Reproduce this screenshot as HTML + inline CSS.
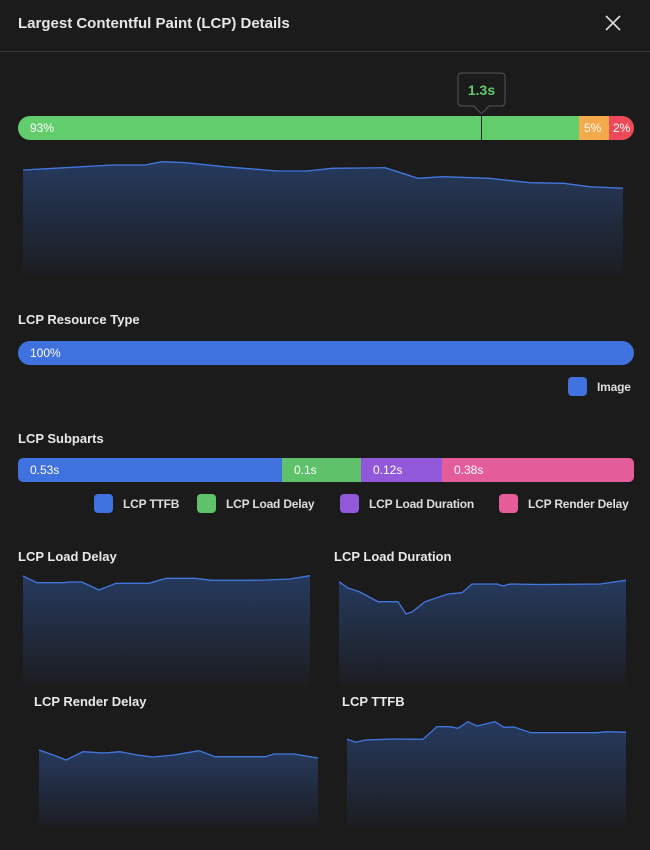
<!DOCTYPE html>
<html><head><style>
body{margin:0;width:650px;height:850px;background:#1b1b1b;font-family:"Liberation Sans",sans-serif;color:#e6e6e6;position:relative;overflow:hidden}
.a{position:absolute}
.t{font-size:13px;font-weight:bold;color:#e8e8e8}
.bar{position:absolute;height:24px;display:flex;overflow:hidden;border-radius:12px}
.bar div{height:24px;line-height:24px;font-size:12px;color:#fff;padding-left:12px;box-sizing:border-box;white-space:nowrap}
.lg{position:absolute;font-size:12px;font-weight:bold;color:#ddd;display:flex;align-items:center;letter-spacing:-0.2px}
.lg i{display:inline-block;width:19px;height:19px;border-radius:4px;margin-right:10px}
</style></head><body>
<div class="a" style="left:18px;top:15px;font-size:15px;font-weight:bold;color:#e6e6e6">Largest Contentful Paint (LCP) Details</div>
<svg class="a" style="left:604px;top:14px" width="18" height="18"><path d="M2 2L16 16M16 2L2 16" stroke="#ddd" stroke-width="1.6"/></svg>
<div class="a" style="left:0;top:51px;width:650px;height:1px;background:#3a3a3a"></div>
<svg class="a" style="left:0;top:0" width="650" height="850">
<defs><linearGradient id="g" x1="0" y1="0" x2="0" y2="1"><stop offset="0" stop-color="#263a5e"/><stop offset="1" stop-color="#1c1d21"/></linearGradient></defs>
<path d="M462,73 H501 Q505,73 505,77 V102 Q505,106 501,106 H489 L481.5,114 L474,106 H462 Q458,106 458,102 V77 Q458,73 462,73Z" fill="#1b1b1b" stroke="#555"/>
<text x="481.5" y="95" text-anchor="middle" font-size="14" font-weight="bold" fill="#5fcd6c" font-family="Liberation Sans">1.3s</text>
<g>
<path d="M23,170 L54,168.3 L83,166.7 L112,165 L145,165 L162,161.7 L186,162.7 L224,166.7 L278,171 L307,171 L332,168.3 L385,167.7 L418,178.3 L443,176.7 L489,178.3 L530,182.7 L564,183.3 L589,186.7 L623,188.3 L623,275 L23,275Z" fill="url(#g)"/>
<path d="M23,170 L54,168.3 L83,166.7 L112,165 L145,165 L162,161.7 L186,162.7 L224,166.7 L278,171 L307,171 L332,168.3 L385,167.7 L418,178.3 L443,176.7 L489,178.3 L530,182.7 L564,183.3 L589,186.7 L623,188.3" fill="none" stroke="#4277e0" stroke-width="1.3"/>
</g>
<g>
<path d="M23,576 L37,582.7 L64,582.7 L70,582 L82,582 L99,590 L104,588 L116,583.3 L149,583.3 L166,578.3 L195,578.3 L212,580.3 L246,580.3 L266,580 L290,579 L310,575.7 L310,685 L23,685Z" fill="url(#g)"/>
<path d="M23,576 L37,582.7 L64,582.7 L70,582 L82,582 L99,590 L104,588 L116,583.3 L149,583.3 L166,578.3 L195,578.3 L212,580.3 L246,580.3 L266,580 L290,579 L310,575.7" fill="none" stroke="#4277e0" stroke-width="1.3"/>
<path d="M339,581.7 L348,588 L360,592 L378,601.7 L398,601.7 L406,614 L412,612 L425,601.7 L439,597 L448,594 L462,592.7 L472,584 L497,584 L503,586 L510,584 L540,584.5 L600,584 L626,580.3 L626,685 L339,685Z" fill="url(#g)"/>
<path d="M339,581.7 L348,588 L360,592 L378,601.7 L398,601.7 L406,614 L412,612 L425,601.7 L439,597 L448,594 L462,592.7 L472,584 L497,584 L503,586 L510,584 L540,584.5 L600,584 L626,580.3" fill="none" stroke="#4277e0" stroke-width="1.3"/>
<path d="M39,750 L56,756 L66,760 L83,751.7 L104,753 L120,751.7 L137,755 L153,757 L174,755 L199,750.7 L215,756.7 L265,756.7 L274,754 L294,754 L318,758 L318,827 L39,827Z" fill="url(#g)"/>
<path d="M39,750 L56,756 L66,760 L83,751.7 L104,753 L120,751.7 L137,755 L153,757 L174,755 L199,750.7 L215,756.7 L265,756.7 L274,754 L294,754 L318,758" fill="none" stroke="#4277e0" stroke-width="1.3"/>
<path d="M347,739.3 L356,742.3 L365,740 L394,739 L423,739.3 L437,726.7 L450,726.7 L458,728.3 L468,721.7 L477,726 L495,721.7 L504,727.3 L514,727 L531,732.7 L597,732.7 L607,731.7 L626,732.3 L626,827 L347,827Z" fill="url(#g)"/>
<path d="M347,739.3 L356,742.3 L365,740 L394,739 L423,739.3 L437,726.7 L450,726.7 L458,728.3 L468,721.7 L477,726 L495,721.7 L504,727.3 L514,727 L531,732.7 L597,732.7 L607,731.7 L626,732.3" fill="none" stroke="#4277e0" stroke-width="1.3"/>
</g>
</svg>
<div class="bar" style="left:18px;top:116px;width:616px">
<div style="width:561px;background:#62cd6d">93%</div>
<div style="width:30px;background:#f4a94a;padding-left:5px">5%</div>
<div style="width:25px;background:#ec4a58;padding-left:4px">2%</div>
</div>
<div class="a" style="left:481px;top:112px;width:1px;height:28px;background:#222"></div>
<div class="a t" style="left:18px;top:312px">LCP Resource Type</div>
<div class="bar" style="left:18px;top:341px;width:616px"><div style="width:616px;background:#3f72de">100%</div></div>
<div class="lg" style="left:568px;top:377px"><i style="background:#3f72de"></i>Image</div>
<div class="a t" style="left:18px;top:431px">LCP Subparts</div>
<div class="bar" style="left:18px;top:458px;width:616px;border-radius:5px">
<div style="width:264px;background:#3f72de">0.53s</div>
<div style="width:79px;background:#5fc26a">0.1s</div>
<div style="width:81px;background:#9258da">0.12s</div>
<div style="width:192px;background:#e45c9a">0.38s</div>
</div>
<div class="lg" style="left:94px;top:494px"><i style="background:#3f72de"></i>LCP TTFB</div>
<div class="lg" style="left:197px;top:494px"><i style="background:#5fc26a"></i>LCP Load Delay</div>
<div class="lg" style="left:340px;top:494px"><i style="background:#9258da"></i>LCP Load Duration</div>
<div class="lg" style="left:499px;top:494px"><i style="background:#e45c9a"></i>LCP Render Delay</div>
<div class="a t" style="left:18px;top:549px">LCP Load Delay</div>
<div class="a t" style="left:334px;top:549px">LCP Load Duration</div>
<div class="a t" style="left:34px;top:694px">LCP Render Delay</div>
<div class="a t" style="left:342px;top:694px">LCP TTFB</div>
</body></html>
